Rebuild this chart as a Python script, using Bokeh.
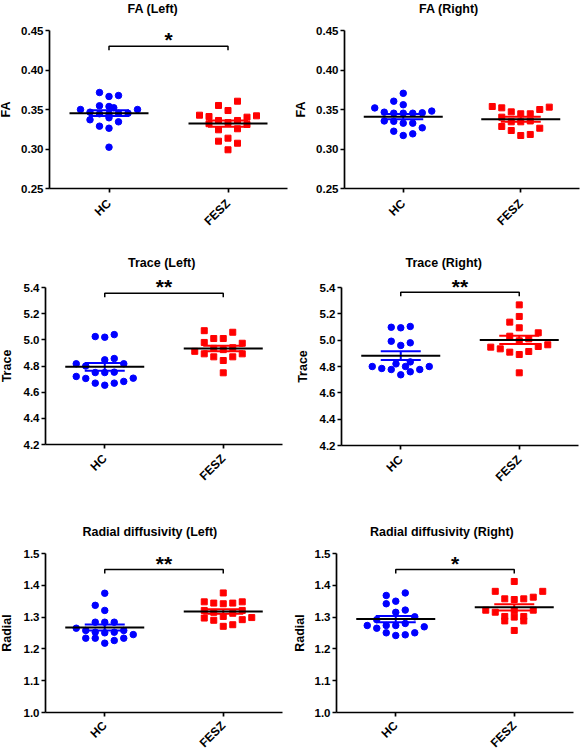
import math
import numpy as np
from bokeh.plotting import figure
from bokeh.layouts import column, row
from bokeh.models import FixedTicker, PrintfTickFormatter, Range1d, Label
from bokeh.embed import file_html
from bokeh.resources import INLINE

categories = ["HC", "FESZ"]

# ---------------- data ----------------
# FA (Left)
fa_l_hc = [0.3715, 0.3665, 0.3677, 0.3547, 0.3538, 0.3522, 0.3500, 0.3500, 0.3466, 0.3446,
           0.3446, 0.3453, 0.3453, 0.3370, 0.3395, 0.3344, 0.3289, 0.3263, 0.3023]
fa_l_hc_slot = [-1, 0, 1, -1, 0, 0.5, -3, 3, -2, -1, 0, 1, 2, -2, 0, 1, -1, 0, 0]
fa_l_fe = [0.3605, 0.3551, 0.3487, 0.3428, 0.3411, 0.3420, 0.3403, 0.3361, 0.3335, 0.3361,
           0.3243, 0.3256, 0.3099, 0.3137, 0.3073, 0.2990, 0.3320, 0.3310]
fa_l_fe_slot = [1, -1, 0, -3, -2, 3, 2, -1, 0, 1, -1, 1, -1, 0, 1, 0, -2, 2]

# FA (Right)
fa_r_hc = [0.3705, 0.3605, 0.3560, 0.3520, 0.3480, 0.3466, 0.3453, 0.3453, 0.3453, 0.3458,
           0.3355, 0.3327, 0.3327, 0.3268, 0.3225, 0.3171, 0.3192, 0.3350]
fa_r_hc_slot = [0, -1, 0, -3, 3, -2, -1, 0, 1, 2, -2, 0, 1, 2, -1, 0, 1, -1]
fa_r_fe = [0.3538, 0.3521, 0.3530, 0.3500, 0.3470, 0.3446, 0.3446, 0.3403, 0.3344, 0.3344,
           0.3355, 0.3285, 0.3234, 0.3171, 0.3184, 0.3263]
fa_r_fe_slot = [-3, -2, 3, 2, -1, 0, 1, -2, -1, 0, 1, -2, -1, 0, 1, 2]

# Trace (Left)
tr_l_hc = [5.025, 5.020, 5.040, 4.817, 4.800, 4.847, 4.857, 4.817, 4.750, 4.750,
           4.753, 4.720, 4.705, 4.707, 4.669, 4.653, 4.669, 4.682]
tr_l_hc_slot = [-1, 0, 1, -3, -2, 0, 1, 2, -1, 0, 1, -3, -2, 3, -1, 0, 1, 2]
tr_l_fe = [5.070, 5.058, 5.010, 5.010, 4.980, 4.974, 4.912, 4.893, 4.870, 4.842,
           4.870, 4.893, 4.748, 4.935, 4.925, 4.940]
tr_l_fe_slot = [-2, 1, -1, 0, -2, 2, -3, -2, -1, 0, 1, 2, 0, -1, 0, 1]

# Trace (Right)
tr_r_hc = [5.098, 5.094, 5.104, 4.992, 4.960, 4.980, 4.800, 4.820, 4.800, 4.835,
           4.800, 4.785, 4.777, 4.777, 4.760, 4.737]
tr_r_hc_slot = [-1, 0, 1, -1, 0, 1, -3, -0.5, 0.5, 1, 3, -2, -1, 2, 1, 0]
tr_r_fe = [5.268, 5.180, 5.137, 5.094, 5.056, 5.030, 5.010, 4.947, 4.934, 4.909,
           4.891, 4.914, 4.952, 4.965, 4.752, 4.995]
tr_r_fe_slot = [0, 0, -1, 0, 2, -1, 1, -3, -2, -1, 0, 1, 2, 3, 0, 0]

# Radial diffusivity (Left)
rd_l_hc = [1.375, 1.337, 1.321, 1.284, 1.284, 1.284, 1.265, 1.258, 1.2525, 1.2506,
           1.2525, 1.258, 1.245, 1.2337, 1.2337, 1.2264, 1.2337, 1.218]
rd_l_hc_slot = [0, -1, 0, -1, 0, 1, -3, -2, -1, 0, 1, 2, 3, -2, -1, 1, 2, 0]
rd_l_fe = [1.376, 1.348, 1.344, 1.342, 1.344, 1.348, 1.321, 1.321, 1.297, 1.290,
           1.302, 1.292, 1.2985, 1.271, 1.276, 1.315, 1.312]
rd_l_fe_slot = [0, -2, -1, 0, 1, 2, -2, 2, -2, -1, 0, 2, 3, 0, 1, -1, 1]

# Radial diffusivity (Right)
rd_r_hc = [1.376, 1.368, 1.350, 1.342, 1.315, 1.322, 1.301, 1.2736, 1.265, 1.2736,
           1.2736, 1.280, 1.2695, 1.2506, 1.2421, 1.2443, 1.2506, 1.292]
rd_r_hc_slot = [1, -1, 0, -1, 0, 1, 2, -3, -2, -1, 0, 1, 3, -1, 0, 1, 2, -2]
rd_r_fe = [1.412, 1.381, 1.381, 1.3575, 1.3553, 1.3575, 1.3626, 1.3217, 1.3154, 1.3217,
           1.302, 1.288, 1.302, 1.288, 1.300, 1.258, 1.320]
rd_r_fe_slot = [0, -2, 3, -1, 0, 1, 2, -3, -2, 2, -1, -1, 1, 1, 0, 0, 0]

titles = ["FA (Left)", "FA (Right)", "Trace (Left)", "Trace (Right)",
          "Radial diffusivity (Left)", "Radial diffusivity (Right)"]
ylabels = ["FA", "FA", "Trace", "Trace", "Radial", "Radial"]
fa_ticks = [0.25, 0.30, 0.35, 0.40, 0.45]
tr_ticks = [4.2, 4.4, 4.6, 4.8, 5.0, 5.2, 5.4]
rd_ticks = [1.0, 1.1, 1.2, 1.3, 1.4, 1.5]
significance = ["*", "", "**", "**", "**", "*"]
bracket_level = [0.430, None, 5.356, 5.364, 1.450, 1.450]

groups = [
    (fa_l_hc, fa_l_hc_slot, fa_l_fe, fa_l_fe_slot),
    (fa_r_hc, fa_r_hc_slot, fa_r_fe, fa_r_fe_slot),
    (tr_l_hc, tr_l_hc_slot, tr_l_fe, tr_l_fe_slot),
    (tr_r_hc, tr_r_hc_slot, tr_r_fe, tr_r_fe_slot),
    (rd_l_hc, rd_l_hc_slot, rd_l_fe, rd_l_fe_slot),
    (rd_r_hc, rd_r_hc_slot, rd_r_fe, rd_r_fe_slot),
]
tick_sets = [fa_ticks, fa_ticks, tr_ticks, tr_ticks, rd_ticks, rd_ticks]
formats = ["%.2f", "%.2f", "%.1f", "%.1f", "%.1f", "%.1f"]

# ---------------- layout / style ----------------
FONT = "Liberation Sans"
BLUE = "#0000ff"
RED = "#ff0000"
# figure size W,H; axis box L,R (x px) T,B (y px) inside the figure;
# title left edge / centre line (tx, ty); asterisk ink centre y (ay);
# y-axis label standoff (ls); x tick-label standoff (xs)
geom = [
    dict(W=291, H=250, L=49, R=287, T=30, B=188, tx=127, ty=8, ay=34.7, ls=5, xs=9),
    dict(W=292, H=250, L=53, R=288, T=30, B=188, tx=127.5, ty=8, ay=0, ls=5, xs=9),
    dict(W=291, H=250, L=45, R=282, T=37, B=194, tx=127.5, ty=12.5, ay=31.5, ls=7, xs=8),
    dict(W=292, H=250, L=50, R=287, T=37, B=195, tx=114, ty=12.5, ay=31.3, ls=7, xs=8),
    dict(W=291, H=250, L=45, R=282, T=53, B=212, tx=82, ty=31, ay=58.2, ls=7, xs=7),
    dict(W=292, H=250, L=45, R=282, T=53, B=212, tx=78.5, ty=31, ay=58.3, ls=5, xs=7),
]
AST_SIZE = 21


def make_panel(i):
    g = geom[i]
    hc, hc_slot, fe, fe_slot = groups[i]
    ticks = tick_sets[i]
    y0, y1 = ticks[0], ticks[-1]
    upx = 2.0 / (g["R"] - g["L"])          # data units per pixel (x)
    upy = (y1 - y0) / (g["B"] - g["T"])     # data units per pixel (y)
    xs0 = 0.5 - g["L"] * upx
    xs1 = 0.5 + (g["W"] - g["L"]) * upx
    ye1 = y1 + g["T"] * upy
    ye0 = y1 - (g["H"] - g["T"]) * upy

    def px_x(px):
        return 0.5 + (px - g["L"]) * upx

    def px_y(py):
        return y1 - (py - g["T"]) * upy

    p = figure(width=g["W"], height=g["H"], x_range=Range1d(xs0, xs1),
               y_range=Range1d(ye0, ye1), output_backend="svg", toolbar_location=None,
               min_border_left=0, min_border_right=0, min_border_top=0, min_border_bottom=0)
    p.background_fill_color = "white"
    p.border_fill_color = "white"
    p.outline_line_color = None
    p.xgrid.visible = False
    p.ygrid.visible = False

    step = 9.5 * upx
    specs = [(hc, hc_slot, BLUE, "circle", 6.5), (fe, fe_slot, RED, "square", 6)]
    for gi, (vals, slots, color, marker, size) in enumerate(specs):
        c = gi + 1
        xs = [c + s * step for s in slots]
        p.scatter(xs, vals, marker=marker, size=size, fill_color=color, line_color=color)
    for gi, (vals, slots, color, marker, size) in enumerate(specs):
        c = gi + 1
        arr = np.asarray(vals)
        m = float(arr.mean())
        sem = float(arr.std(ddof=1) / math.sqrt(len(arr)))
        cw = 20 * upx
        p.segment(x0=[c - cw, c - cw, c], y0=[m + sem, m - sem, m - sem],
                  x1=[c + cw, c + cw, c], y1=[m + sem, m - sem, m + sem],
                  line_color=color, line_width=2)
        mw = 39.5 * upx
        p.segment(x0=[c - mw], y0=[m], x1=[c + mw], y1=[m], line_color="black", line_width=2)

    b = bracket_level[i]
    if b is not None:
        d = 4 * upy
        p.line(x=[1, 1, 2, 2], y=[b - d, b, b, b - d], line_color="black", line_width=1.5)
        p.add_layout(Label(x=1.5, y=px_y(g["ay"] + 0.22 * AST_SIZE), text=significance[i],
                           text_align="center", text_baseline="middle", text_font=FONT,
                           text_font_style="bold", text_font_size=f"{AST_SIZE}px",
                           text_color="black"))

    p.add_layout(Label(x=px_x(g["tx"]), y=px_y(g["ty"]), text=titles[i],
                       text_align="left", text_baseline="middle", text_font=FONT,
                       text_font_style="bold", text_font_size="12.5px", text_color="black"))

    for ax in (p.xaxis[0], p.yaxis[0]):
        ax.axis_line_width = 1.7
        ax.axis_line_color = "black"
        ax.major_tick_line_width = 1.7
        ax.major_tick_line_color = "black"
        ax.major_tick_out = 4
        ax.major_tick_in = 0
        ax.minor_tick_line_color = None
        ax.major_label_text_font = FONT
        ax.major_label_text_font_style = "bold"
        ax.major_label_text_color = "black"

    p.xaxis.fixed_location = y0
    p.xaxis.bounds = (0.5, 2.5)
    p.xaxis.ticker = FixedTicker(ticks=[1, 2])
    p.xaxis.major_label_overrides = {1: categories[0], 2: categories[1]}
    p.xaxis.major_label_orientation = math.pi / 4
    p.xaxis.major_label_text_font_size = "12px"
    p.xaxis.major_label_standoff = g["xs"]

    p.yaxis.fixed_location = 0.5
    p.yaxis.bounds = (y0, y1)
    p.yaxis.ticker = FixedTicker(ticks=ticks)
    p.yaxis.formatter = PrintfTickFormatter(format=formats[i])
    p.yaxis.major_label_text_font_size = "11.5px"
    p.yaxis.major_label_standoff = 2
    p.yaxis.axis_label = ylabels[i]
    p.yaxis.axis_label_text_font = FONT
    p.yaxis.axis_label_text_font_style = "bold"
    p.yaxis.axis_label_text_font_size = "12.5px"
    p.yaxis.axis_label_text_color = "black"
    p.yaxis.axis_label_standoff = g["ls"]
    return p


plots = [make_panel(i) for i in range(6)]
layout = column(row(plots[0], plots[1]), row(plots[2], plots[3]), row(plots[4], plots[5]))

open("out.html", "w").write(file_html(layout, INLINE))
